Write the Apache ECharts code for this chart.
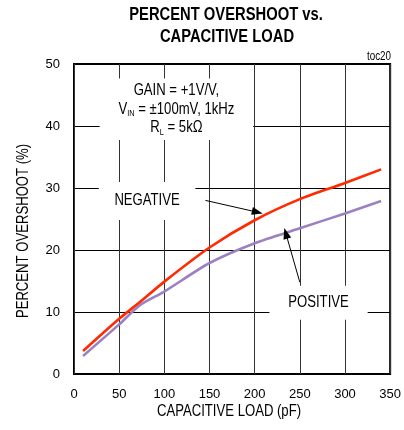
<!DOCTYPE html>
<html><head><meta charset="utf-8">
<script src="https://cdn.jsdelivr.net/npm/echarts@6/dist/echarts.min.js"></script>
<style>html,body{margin:0;padding:0;background:#fff}#c{width:404px;height:430px}</style>
</head><body><div id="c"></div>
<script>
const capLoad = [10, 50, 73, 100, 150, 200, 250, 300, 340];
const negative = [3.7, 8.9, 11.6, 14.9, 20.4, 24.8, 28.2, 30.8, 33.0];
const positive = [2.9, 8.0, 11.1, 13.3, 17.9, 21.1, 23.5, 25.9, 27.9];
const xTicks = [0, 50, 100, 150, 200, 250, 300, 350];
const yTicks = [0, 10, 20, 30, 40, 50];
// annotation arrows [from, to] in data units
const negArrow = [[145.5, 28.0], [203, 26.1]];
const posArrow = [[250, 14.8], [234.5, 22.7]];
// annotation text anchors (box centres) in data units
const condAnchor = [113.4, 42.7];
const negLabelAnchor = [80.9, 27.9];
const posLabelAnchor = [270.7, 11.5];

const font = '"Liberation Sans", Arial, sans-serif';
const chart = echarts.init(document.getElementById('c'), null, {renderer: 'canvas'});
const pair = (xs, ys) => xs.map((x, i) => [x, ys[i]]);
const arrowLine = (a) => ({
  type: 'line', data: [], silent: true,
  markLine: {
    silent: true, symbol: ['none', 'triangle'], symbolSize: [8, 11],
    lineStyle: {color: '#000', width: 1, type: 'solid'}, label: {show: false},
    data: [[{coord: a[0]}, {coord: a[1]}]]
  }
});
chart.setOption({
  animation: false,
  grid: {left: 74, right: 12, top: 64, bottom: 56, show: true, borderColor: '#000', borderWidth: 2, containLabel: false},
  xAxis: {
    type: 'value', min: 0, max: 350, interval: 50,
    axisLine: {show: false}, axisTick: {show: false},
    axisLabel: {fontFamily: font, fontSize: 13, color: '#000', margin: 14},
    splitLine: {show: true, lineStyle: {color: '#333', width: 1}}
  },
  yAxis: {
    type: 'value', min: 0, max: 50, interval: 10,
    axisLine: {show: false}, axisTick: {show: false},
    axisLabel: {fontFamily: font, fontSize: 13, color: '#000', margin: 14},
    splitLine: {show: true, lineStyle: {color: '#000', width: 1}}
  },
  series: [
    {name: 'NEGATIVE', type: 'line', data: pair(capLoad, negative), smooth: 0.25, showSymbol: false,
     lineStyle: {color: '#ff2a00', width: 2.6}, z: 5},
    {name: 'POSITIVE', type: 'line', data: pair(capLoad, positive), smooth: 0.25, showSymbol: false,
     lineStyle: {color: '#9b80c2', width: 2.6}, z: 4},
    arrowLine(negArrow),
    arrowLine(posArrow)
  ]
});
const px = (p) => chart.convertToPixel({gridIndex: 0}, p);
const c1 = px(condAnchor), c2 = px(negLabelAnchor), c3 = px(posLabelAnchor);
const SX = 0.82;
const txt = {fontFamily: font, fontSize: 16, fill: '#000', backgroundColor: '#fff', align: 'center', verticalAlign: 'middle'};
const plain = (s, size, extra) => Object.assign({text: s, fontFamily: font, fontSize: size, fill: '#000', align: 'center', verticalAlign: 'middle'}, extra || {});
chart.setOption({
  graphic: [
    {type: 'text', x: 226, y: 15, scaleX: SX, z: 10, style: plain('PERCENT OVERSHOOT vs.', 18, {fontWeight: 'bold'})},
    {type: 'text', x: 227, y: 37, scaleX: SX, z: 10, style: plain('CAPACITIVE LOAD', 18, {fontWeight: 'bold'})},
    {type: 'text', x: 229, y: 412, scaleX: SX, z: 10, style: plain('CAPACITIVE LOAD (pF)', 16)},
    {type: 'text', x: 24, y: 231, rotation: Math.PI / 2, scaleX: SX, z: 10, style: plain('PERCENT OVERSHOOT (%)', 16)},
    {type: 'text', x: c1[0], y: c1[1], scaleX: SX, z: 10, style: Object.assign({}, txt, {
      text: 'GAIN = +1V/V,\nV{s|IN} = ±100mV, 1kHz\nR{s|L} = 5kΩ',
      lineHeight: 18.5, padding: [3, 23, 3, 23],
      rich: {s: {fontFamily: font, fontSize: 9, fill: '#000', verticalAlign: 'bottom', padding: [7, 0, 0, 0], lineHeight: 18.5}}
    })},
    {type: 'text', x: c2[0], y: c2[1], scaleX: SX, z: 10, style: Object.assign({}, txt, {
      text: 'NEGATIVE', padding: [11, 19, 11, 19]})},
    {type: 'text', x: c3[0], y: c3[1], scaleX: SX, z: 10, style: Object.assign({}, txt, {
      text: 'POSITIVE', padding: [9, 23, 9, 23]})},
    {type: 'text', x: 391, y: 57, scaleX: SX, z: 10, style: {text: 'toc20', fontFamily: font, fontSize: 12, fill: '#000', align: 'right', verticalAlign: 'middle'}}
  ]
});
</script></body></html>
